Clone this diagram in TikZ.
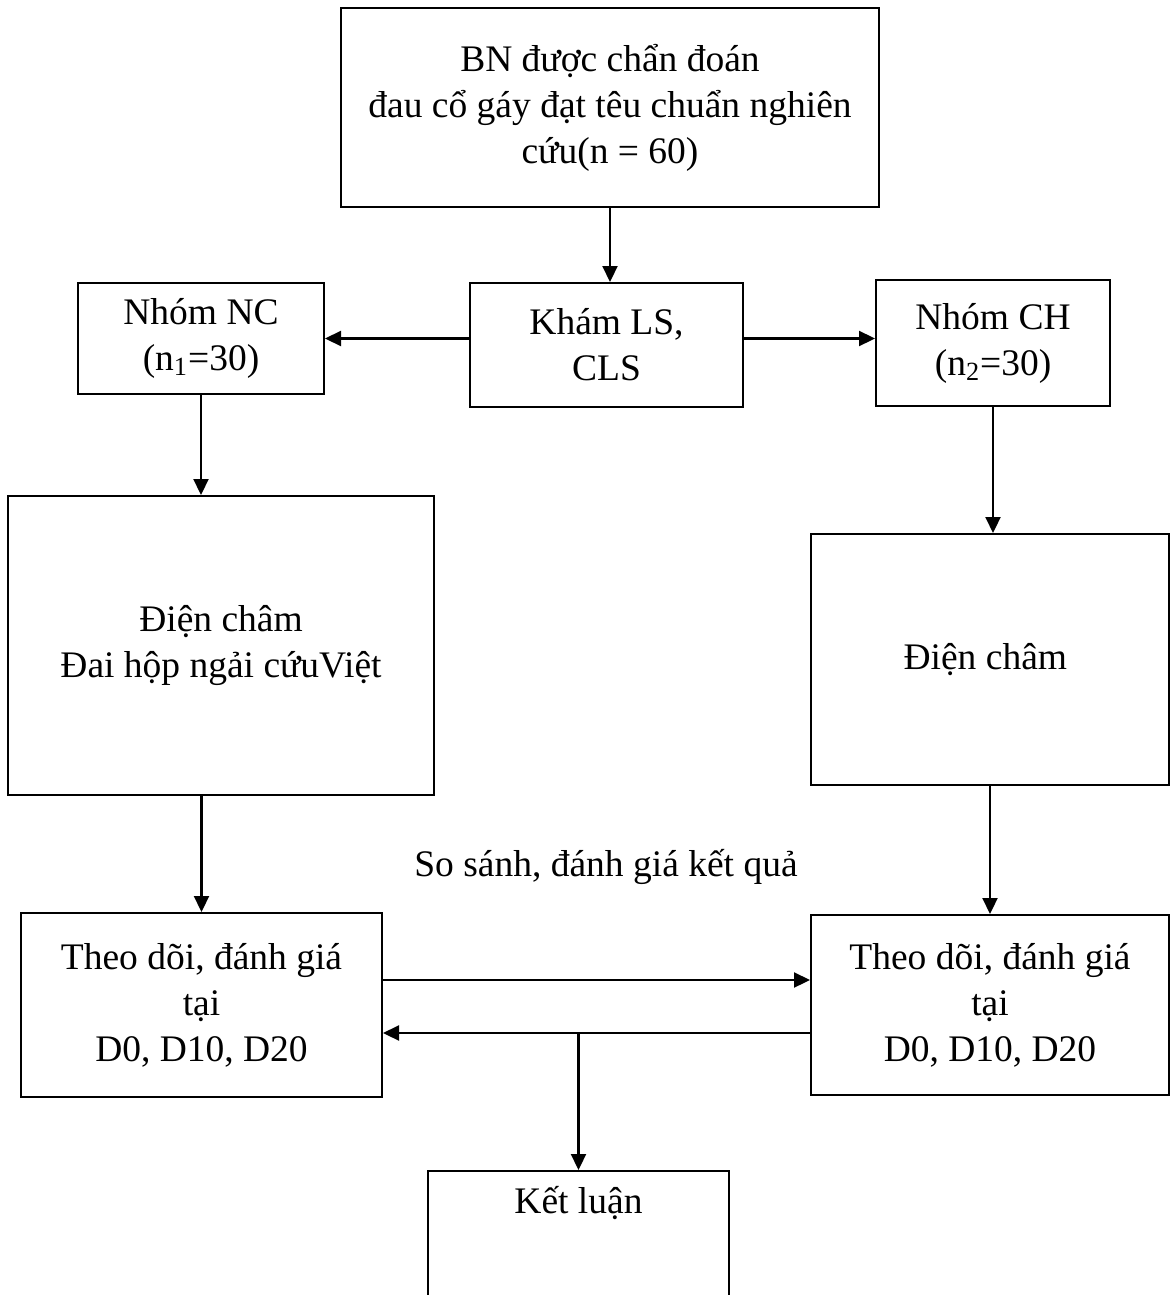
\documentclass[tikz,border=0pt]{standalone}
\usepackage{fontspec}
\setmainfont{Liberation Serif}
\usetikzlibrary{arrows.meta, positioning, calc}

\begin{document}
\begin{tikzpicture}[
                x=0.5pt, y=-0.5pt,
                box/.style={rectangle, draw, line width=1pt, align=center, inner sep=0pt, font=\fontsize{18.75}{23}\selectfont},
                txt/.style={align=center, inner sep=0pt, font=\fontsize{18.75}{23}\selectfont},
                arr/.style={line width=1.1pt, -{Triangle[length=8pt, width=7.5pt]}}
            ]
                \clip (0,0) rectangle (1171,1295);

                \node[box, minimum width=269pt, minimum height=99.5pt] (bn) at (610,107.5) {
                    BN được chẩn đoán\\
                    đau cổ gáy đạt têu chuẩn nghiên\\
                    cứu(n = 60)
                };
                \node[box, minimum width=136.5pt, minimum height=62pt] (kham) at (606.5,345) {
                    Khám LS,\\
                    CLS
                };
                \node[box, minimum width=123pt, minimum height=55.5pt] (nc) at (201,338.5) {
                    Nhóm NC\\
                    (n\textsubscript{1}=30)
                };
                \node[box, minimum width=117pt, minimum height=63pt] (ch) at (993,343) {
                    Nhóm CH\\
                    (n\textsubscript{2}=30)
                };

                \node[box, minimum width=213pt, minimum height=149.5pt] (dcnc) at (221,645.5) {
                    Điện châm\\
                    Đai hộp ngải cứuViệt
                };
                \node[box, minimum width=179pt, minimum height=125.5pt] (dcch) at (990,659.5) {
                    Điện châm
                };

                \node[box, minimum width=180.5pt, minimum height=92pt] (tdnc) at (201.5,1005) {
                    Theo dõi, đánh giá\\
                    tại\\
                    D0, D10, D20
                };
                \node[box, minimum width=179pt, minimum height=90pt] (tdch) at (990,1005) {
                    Theo dõi, đánh giá\\
                    tại\\
                    D0, D10, D20
                };
                \node[txt] (sosanh) at (606,867) {So sánh, đánh giá kết quả};

                \node[box, minimum width=150.5pt, anchor=north, inner ysep=6pt, text height=15pt, text depth=100pt] (kl) at (578.5,1170) {Kết luận};

                \draw[arr] (bn.south) -- (bn.south |- kham.north);
                \draw[arr] (kham.west |- nc.east) -- (nc.east);
                \draw[arr] (kham.east |- nc.east) -- (ch.west |- nc.east);
                \draw[arr] (nc.south) -- (nc.south |- dcnc.north);
                \draw[arr] (ch.south) -- (ch.south |- dcch.north);
                \draw[arr] (tdnc.north |- dcnc.south) -- (tdnc.north);
                \draw[arr] (dcch.south) -- (tdch.north);

                \draw[arr] ([yshift=12.5pt]tdnc.east) -- ([yshift=12.5pt]tdch.west);
                \draw[arr] ([yshift=-14pt]tdch.west) -- ([yshift=-14pt]tdnc.east);
                \coordinate (tach) at (578.5,1033);
                \draw[arr] (tach) -- (kl.north);
            \end{tikzpicture}
\end{document}
